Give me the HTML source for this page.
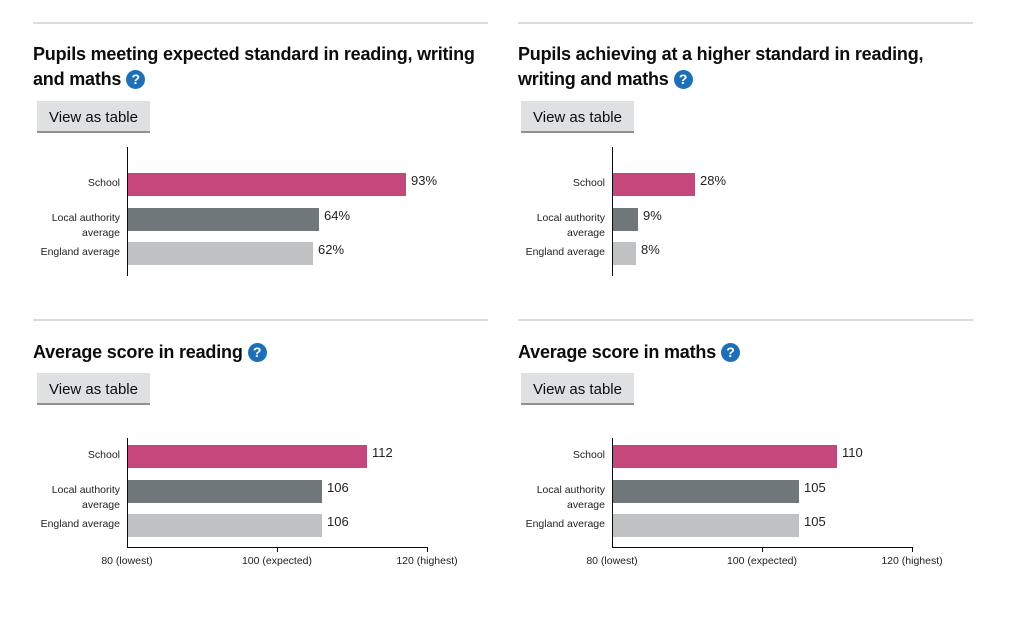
<!DOCTYPE html>
<html><head><meta charset="utf-8"><style>
body{margin:0;background:#fff;width:1024px;height:617px;position:relative;overflow:hidden;font-family:"Liberation Sans",sans-serif;color:#0b0c0c}
.a{position:absolute}
.rule{height:2px;background:#dcdcdc;width:455px}
.t{font-weight:bold;font-size:18px;line-height:25px;white-space:nowrap;letter-spacing:-0.2px}
.q{display:inline-block;width:19px;height:19px;border-radius:50%;background:#1d70b8;color:#fff;font-size:14px;line-height:19px;text-align:center;vertical-align:top;margin-top:3px;margin-left:5px;letter-spacing:0}
.btn{width:113px;height:30px;background:#dee0e2;border-bottom:2px solid #929191;font-size:15px;line-height:33px;text-align:center}
.ax{width:1px;background:#0b0c0c}
.lb{font-size:10.5px;line-height:15px;text-align:right;width:110px;color:#222}
.v{font-size:13px;color:#222}
.s{background:#c5487c}.l{background:#6f777b}.e{background:#bfc1c3}
.tick{width:1px;height:5px;background:#0b0c0c}
.tl{font-size:10.5px;color:#222;width:100px;text-align:center}
</style></head><body>
<div class="a rule" style="left:33px;top:22px"></div>
<div class="a t" style="left:33px;top:42px">Pupils meeting expected standard in reading, writing<br>and maths<span class="q">?</span></div>
<div class="a btn" style="left:37px;top:101px">View as table</div>
<div class="a ax" style="left:127px;top:147px;height:129px"></div>
<div class="a lb" style="left:10px;top:176px">School</div>
<div class="a lb" style="left:10px;top:211px">Local authority<br>average</div>
<div class="a lb" style="left:10px;top:245px">England average</div>
<div class="a s" style="left:128px;top:173px;width:278px;height:23px"></div>
<div class="a l" style="left:128px;top:208px;width:191px;height:23px"></div>
<div class="a e" style="left:128px;top:242px;width:185px;height:23px"></div>
<div class="a v" style="left:411px;top:173px">93%</div>
<div class="a v" style="left:324px;top:208px">64%</div>
<div class="a v" style="left:318px;top:242px">62%</div>
<div class="a rule" style="left:518px;top:22px"></div>
<div class="a t" style="left:518px;top:42px">Pupils achieving at a higher standard in reading,<br>writing and maths<span class="q">?</span></div>
<div class="a btn" style="left:521px;top:101px">View as table</div>
<div class="a ax" style="left:612px;top:147px;height:129px"></div>
<div class="a lb" style="left:495px;top:176px">School</div>
<div class="a lb" style="left:495px;top:211px">Local authority<br>average</div>
<div class="a lb" style="left:495px;top:245px">England average</div>
<div class="a s" style="left:613px;top:173px;width:82px;height:23px"></div>
<div class="a l" style="left:613px;top:208px;width:25px;height:23px"></div>
<div class="a e" style="left:613px;top:242px;width:23px;height:23px"></div>
<div class="a v" style="left:700px;top:173px">28%</div>
<div class="a v" style="left:643px;top:208px">9%</div>
<div class="a v" style="left:641px;top:242px">8%</div>
<div class="a rule" style="left:33px;top:319px"></div>
<div class="a t" style="left:33px;top:340px">Average score in reading<span class="q">?</span></div>
<div class="a btn" style="left:37px;top:373px">View as table</div>
<div class="a ax" style="left:127px;top:438px;height:110px"></div>
<div class="a" style="left:127px;top:547px;width:301px;height:1px;background:#0b0c0c"></div>
<div class="a tick" style="left:277px;top:547px"></div><div class="a tick" style="left:427px;top:547px"></div>
<div class="a tl" style="left:77px;top:555px">80 (lowest)</div>
<div class="a tl" style="left:227px;top:555px">100 (expected)</div>
<div class="a tl" style="left:377px;top:555px">120 (highest)</div>
<div class="a lb" style="left:10px;top:448px">School</div>
<div class="a lb" style="left:10px;top:483px">Local authority<br>average</div>
<div class="a lb" style="left:10px;top:517px">England average</div>
<div class="a s" style="left:128px;top:445px;width:239px;height:23px"></div>
<div class="a l" style="left:128px;top:480px;width:194px;height:23px"></div>
<div class="a e" style="left:128px;top:514px;width:194px;height:23px"></div>
<div class="a v" style="left:372px;top:445px">112</div>
<div class="a v" style="left:327px;top:480px">106</div>
<div class="a v" style="left:327px;top:514px">106</div>
<div class="a rule" style="left:518px;top:319px"></div>
<div class="a t" style="left:518px;top:340px">Average score in maths<span class="q">?</span></div>
<div class="a btn" style="left:521px;top:373px">View as table</div>
<div class="a ax" style="left:612px;top:438px;height:110px"></div>
<div class="a" style="left:612px;top:547px;width:301px;height:1px;background:#0b0c0c"></div>
<div class="a tick" style="left:762px;top:547px"></div><div class="a tick" style="left:912px;top:547px"></div>
<div class="a tl" style="left:562px;top:555px">80 (lowest)</div>
<div class="a tl" style="left:712px;top:555px">100 (expected)</div>
<div class="a tl" style="left:862px;top:555px">120 (highest)</div>
<div class="a lb" style="left:495px;top:448px">School</div>
<div class="a lb" style="left:495px;top:483px">Local authority<br>average</div>
<div class="a lb" style="left:495px;top:517px">England average</div>
<div class="a s" style="left:613px;top:445px;width:224px;height:23px"></div>
<div class="a l" style="left:613px;top:480px;width:186px;height:23px"></div>
<div class="a e" style="left:613px;top:514px;width:186px;height:23px"></div>
<div class="a v" style="left:842px;top:445px">110</div>
<div class="a v" style="left:804px;top:480px">105</div>
<div class="a v" style="left:804px;top:514px">105</div>
</body></html>
